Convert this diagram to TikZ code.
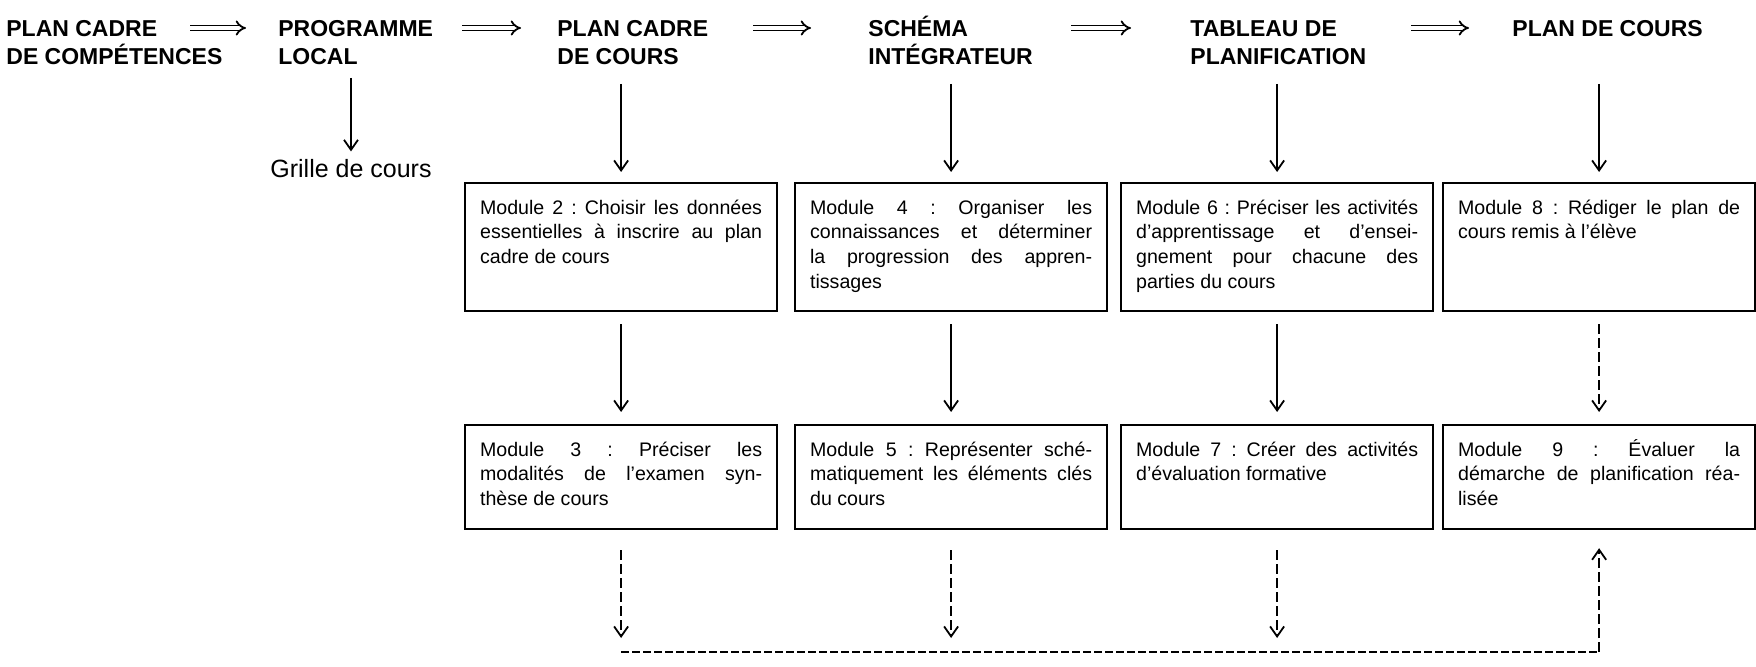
\documentclass[tikz,border=0pt]{standalone}
\usepackage{fontspec}
\setmainfont{Liberation Sans}
\usetikzlibrary{arrows.meta}
\frenchspacing
\tikzset{
  hdr/.style={anchor=base west, align=left, inner sep=0pt, font=\fontsize{11.5}{14}\selectfont\bfseries},
  mbox/.style={draw, line width=1.1pt, anchor=north west, inner xsep=7.5pt, inner ysep=7pt},
  arr/.style={line width=0.9pt, -{Straight Barb[length=5pt,width=7pt,line width=0.9pt]}, shorten >=5pt},
  dasharr/.style={arr, dash pattern=on 5pt off 2pt},
  hdash/.style={line width=1pt, dash pattern=on 4pt off 1.5pt},
  dbl/.style={line width=0.9pt, double, double distance=1.6pt, -{Implies}}
}
\newcommand{\mtext}[2]{\parbox[t][#1][t]{141pt}{\fontsize{9.8}{12.3}\selectfont\frenchspacing\tolerance=10000\hbadness=10000\hyphenpenalty=10000\strut #2}}
\begin{document}
\begin{tikzpicture}[x=0.5pt,y=-0.5pt]
\useasboundingbox (0,0) rectangle (1756,667);
% headers (base anchor = last line)
\node[hdr] (h1) at (6,65) {PLAN CADRE\\DE COMPÉTENCES};
\node[hdr] (h2) at (278,65) {PROGRAMME\\LOCAL};
\node[hdr] (h3) at (557,65) {PLAN CADRE\\DE COURS};
\node[hdr] (h4) at (868,65) {SCHÉMA\\INTÉGRATEUR};
\node[hdr] (h5) at (1190,65) {TABLEAU DE\\PLANIFICATION};
\node[hdr] (h6) at (1512,37) {PLAN DE COURS};
% double arrows
\coordinate (a1s) at (190,28); \coordinate (a1e) at (246,28);
\coordinate (a2s) at (462,28); \coordinate (a2e) at (521,28);
\coordinate (a3s) at (753,28); \coordinate (a3e) at (811,28);
\coordinate (a4s) at (1071,28); \coordinate (a4e) at (1131,28);
\coordinate (a5s) at (1411,28); \coordinate (a5e) at (1469,28);
\draw[dbl] (a1s) -- (a1e);
\draw[dbl] (a2s) -- (a2e);
\draw[dbl] (a3s) -- (a3e);
\draw[dbl] (a4s) -- (a4e);
\draw[dbl] (a5s) -- (a5e);
% grille
\node[font=\fontsize{12.5}{15}\selectfont, inner sep=0pt] (grille) at (351,169) {Grille de cours};
\coordinate (gtop) at (0,78);
\draw[arr, shorten >=4pt] (grille.north |- gtop) -- (grille.north);
% boxes
\node[mbox] (m2) at (464,182) {\mtext{50pt}{Module 2 : Choisir les données\linebreak essentielles à inscrire au plan\linebreak cadre de cours}};
\node[mbox] (m4) at (794,182) {\mtext{50pt}{Module 4 : Organiser les\linebreak connaissances et déterminer\linebreak la progression des appren-\linebreak tissages}};
\node[mbox] (m6) at (1120,182) {\mtext{50pt}{Module 6 : Préciser les activités\linebreak d’apprentissage et d’ensei-\linebreak gnement pour chacune des\linebreak parties du cours}};
\node[mbox] (m8) at (1442,182) {\mtext{50pt}{Module 8 : Rédiger le plan de\linebreak cours remis à l’élève}};
\node[mbox] (m3) at (464,424) {\mtext{38pt}{Module 3 : Préciser les\linebreak modalités de l’examen syn-\linebreak thèse de cours}};
\node[mbox] (m5) at (794,424) {\mtext{38pt}{Module 5 : Représenter sché-\linebreak matiquement les éléments clés\linebreak du cours}};
\node[mbox] (m7) at (1120,424) {\mtext{38pt}{Module 7 : Créer des activités\linebreak d’évaluation formative}};
\node[mbox] (m9) at (1442,424) {\mtext{38pt}{Module 9 : Évaluer la\linebreak démarche de planification réa-\linebreak lisée}};
% top arrows
\coordinate (toprow) at (0,84);
\draw[arr] (m2.north |- toprow) -- (m2.north);
\draw[arr] (m4.north |- toprow) -- (m4.north);
\draw[arr] (m6.north |- toprow) -- (m6.north);
\draw[arr] (m8.north |- toprow) -- (m8.north);
% middle arrows
\draw[arr, shorten <=6pt, shorten >=6pt] (m2.south) -- (m3.north);
\draw[arr, shorten <=6pt, shorten >=6pt] (m4.south) -- (m5.north);
\draw[arr, shorten <=6pt, shorten >=6pt] (m6.south) -- (m7.north);
\draw[dasharr, shorten <=6pt, shorten >=6pt] (m8.south) -- (m9.north);
% bottom feedback
\coordinate (base) at (0,652);
\draw[dasharr, shorten <=10pt, shorten >=7pt] (m3.south) -- (m3.south |- base);
\draw[dasharr, shorten <=10pt, shorten >=7pt] (m5.south) -- (m5.south |- base);
\draw[dasharr, shorten <=10pt, shorten >=7pt] (m7.south) -- (m7.south |- base);
\draw[hdash] (m3.south |- base) -- (m9.south |- base);
\draw[dasharr, shorten >=9pt] (m9.south |- base) -- (m9.south);
\end{tikzpicture}
\end{document}
